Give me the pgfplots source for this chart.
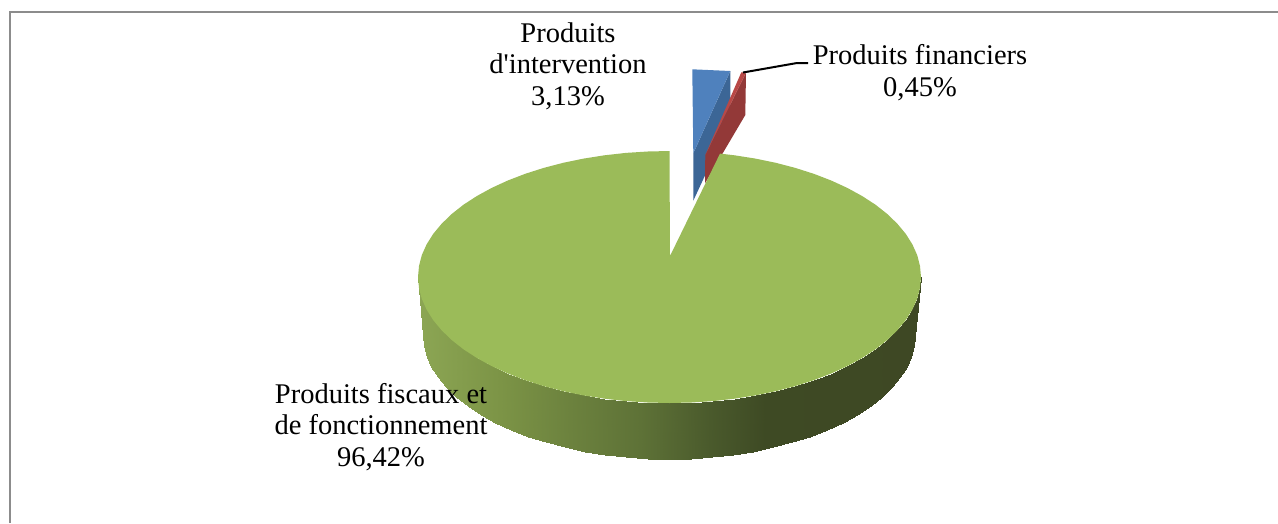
\documentclass[border=0pt]{standalone}
\usepackage{pgfplots}
\pgfplotsset{compat=1.18}
\usepackage{fontspec}
\newfontfamily\lab{Liberation Serif}
\definecolor{pblue}{RGB}{79,129,189}
\definecolor{pbluedark}{RGB}{60,102,150}
\definecolor{pred}{RGB}{184,72,70}
\definecolor{preddark}{RGB}{147,57,56}
\definecolor{pgreen}{RGB}{155,187,89}
\definecolor{pframe}{RGB}{140,140,140}
\begin{document}
\begin{tikzpicture}
\begin{axis}[
  scale only axis, width=1278pt, height=523pt,
  xmin=0, xmax=1278, ymin=0, ymax=523, y dir=reverse,
  hide axis,
  colormap={side}{rgb255(418)=(140,166,84) rgb255(500)=(124,148,70) rgb255(570)=(108,130,62) rgb255(640)=(94,114,55) rgb255(710)=(74,90,44) rgb255(765)=(62,74,36) rgb255(921)=(62,72,36)},
  point meta min=418, point meta max=921,
]
\path[use as bounding box] (axis cs:0,0) rectangle (axis cs:1278,523);
% frame
\addplot[pframe, line width=2pt] coordinates {(10,523) (10,11.5) (1278,11.5)};
% Produits d'intervention 3,13 %
\addplot[fill=pbluedark, draw=none] coordinates {(693.3,153.3) (730.3,71) (730.3,121) (693.3,200.7)} -- cycle;
\addplot[fill=pblue, draw=none] coordinates {(692.3,69.3) (730.3,71) (693.3,153.3)} -- cycle;
% Produits financiers 0,45 %
\addplot[fill=preddark, draw=none] coordinates {(746,72.7) (745.3,115) (705,183.3) (705.3,155)} -- cycle;
\addplot[fill=pred, draw=none] coordinates {(741.3,72.3) (746,72.7) (705.3,155)} -- cycle;
% side of the large slice
\addplot[surf, mesh/rows=2, shader=interp, point meta=explicit] table[x=x, y=y, meta=c] {
x y c
921 277 921
920 288 920
917.2 298.9 917.2
912.4 309.6 912.4
905.8 320.1 905.8
897.4 330.2 897.4
887.3 340 887.3
875.5 349.3 875.5
862.1 358 862.1
847.3 366.1 847.3
831.2 373.5 831.2
813.8 380.2 813.8
795.3 386.1 795.3
775.8 391.2 775.8
755.5 395.4 755.5
734.6 398.7 734.6
713.2 401.1 713.2
691.4 402.5 691.4
669.5 403 669.5
647.6 402.5 647.6
625.8 401.1 625.8
604.4 398.7 604.4
583.5 395.4 583.5
563.2 391.2 563.2
543.7 386.1 543.7
525.2 380.2 525.2
507.8 373.5 507.8
491.7 366.1 491.7
476.9 358 476.9
463.5 349.3 463.5
451.7 340 451.7
441.6 330.2 441.6
433.2 320.1 433.2
426.6 309.6 426.6
421.8 298.9 421.8
419 288 419
418 277 418
915 335 915
914.1 345.8 914.1
911.3 356.5 911.3
906.6 367.1 906.6
900.2 377.4 900.2
892 387.4 892
882 397 882
870.5 406.1 870.5
857.4 414.7 857.4
842.9 422.7 842.9
827.1 430 827.1
810.1 436.6 810.1
792 442.4 792
773 447.4 773
753.1 451.5 753.1
732.7 454.8 732.7
711.7 457.1 711.7
690.5 458.5 690.5
669 459 669
647.5 458.5 647.5
626.3 457.1 626.3
605.3 454.8 605.3
584.9 451.5 584.9
565 447.4 565
546 442.4 546
527.9 436.6 527.9
510.9 430 510.9
495.1 422.7 495.1
480.6 414.7 480.6
467.5 406.1 467.5
456 397 456
446 387.4 446
437.8 377.4 437.8
431.4 367.1 431.4
426.7 356.5 426.7
423.9 345.8 423.9
423 335 423
};
% top of the large slice, 96,42 %
\addplot[fill=pgreen, draw=none] coordinates {
(670,256) (720,153.6) (734.6,155.3) (755.5,158.6) (775.8,162.8) (795.3,167.9) (813.8,173.8) (831.2,180.5) (847.3,187.9) (862.1,196) (875.5,204.7) (887.3,214) (897.4,223.8) (905.8,233.9) (912.4,244.4) (917.2,255.1) (920,266) (921,277)
(920,288) (917.2,298.9) (912.4,309.6) (905.8,320.1) (897.4,330.2) (887.3,340) (875.5,349.3) (862.1,358) (847.3,366.1) (831.2,373.5) (813.8,380.2) (795.3,386.1) (775.8,391.2) (755.5,395.4) (734.6,398.7) (713.2,401.1) (691.4,402.5) (669.5,403)
(647.6,402.5) (625.8,401.1) (604.4,398.7) (583.5,395.4) (563.2,391.2) (543.7,386.1) (525.2,380.2) (507.8,373.5) (491.7,366.1) (476.9,358) (463.5,349.3) (451.7,340) (441.6,330.2) (433.2,320.1) (426.6,309.6) (421.8,298.9) (419,288) (418,277)
(419,266) (421.8,255.1) (426.6,244.4) (433.2,233.9) (441.6,223.8) (451.7,214) (463.5,204.7) (476.9,196) (491.7,187.9) (507.8,180.5) (525.2,173.8) (543.7,167.9) (563.2,162.8) (583.5,158.6) (604.4,155.3) (625.8,152.9) (647.6,151.5) (669.5,151)
} -- cycle;
% leader line
\addplot[black, line width=2pt] coordinates {(743,72.5) (797,63) (808,63)};
% labels
\node[align=center, font=\lab\fontsize{28.5}{31.5}\selectfont] at (axis cs:568,66) {Produits\\d'intervention\\3,13\%};
\node[align=center, font=\lab\fontsize{28.5}{31.5}\selectfont] at (axis cs:920,72.5) {Produits financiers\\0,45\%};
\node[align=center, font=\lab\fontsize{28.5}{31.5}\selectfont] at (axis cs:381,427) {Produits fiscaux et\\de fonctionnement\\96,42\%};
\end{axis}
\end{tikzpicture}
\end{document}
